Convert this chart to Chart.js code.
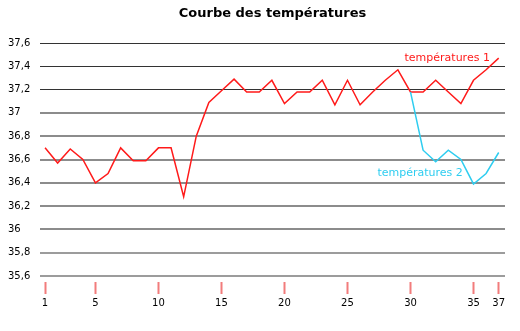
<!DOCTYPE html>
<html>
<head>
<meta charset="utf-8">
<script src="https://cdn.jsdelivr.net/npm/chart.js@4.4.1/dist/chart.umd.min.js"></script>
<style>
  html, body { margin: 0; padding: 0; background: #fff; }
  #wrap { width: 520px; height: 331px; }
</style>
</head>
<body>
<div id="wrap"><canvas id="temp-chart"></canvas></div>
<script>
/* Courbe des températures — two line series over days 1..37 */
var days = [1, 2, 3, 4, 5, 6, 7, 8, 9, 10, 11, 12, 13, 14, 15, 16, 17, 18, 19,
  20, 21, 22, 23, 24, 25, 26, 27, 28, 29, 30, 31, 32, 33, 34, 35, 36, 37];
var temp1 = [36.7, 36.57, 36.69, 36.6, 36.4, 36.48, 36.7, 36.59, 36.59, 36.7,
  36.7, 36.28, 36.8, 37.09, 37.19, 37.29, 37.18, 37.18, 37.28, 37.08,
  37.18, 37.18, 37.28, 37.07, 37.28, 37.07, 37.18, 37.28, 37.37, 37.18,
  37.18, 37.28, 37.18, 37.08, 37.28, 37.37, 37.47];
var temp2 = [null, null, null, null, null, null, null, null, null, null,
  null, null, null, null, null, null, null, null, null, null,
  null, null, null, null, null, null, null, null, null, 37.18,
  36.68, 36.58, 36.68, 36.6, 36.39, 36.48, 36.66];
var seriesNames = ['températures 1', 'températures 2'];
var seriesColors = ['#ff1a1a', '#2ecdf0'];
var xTicks = [1, 5, 10, 15, 20, 25, 30, 35, 37];
var titleText = 'Courbe des températures';
// where the series names sit, in data units (right end of text)
var nameX = [36.3, 34.15];
var nameY = [37.47, 36.48];

Chart.defaults.font.family = "'DejaVu Sans', Verdana, sans-serif";
Chart.defaults.font.size = 10;
Chart.defaults.color = '#000';

function fmtFr(v) {
  return String(Number(v.toFixed(1))).replace('.', ',');
}

var annotate = {
  id: 'annotate',
  afterDraw: function (chart) {
    var ctx = chart.ctx;
    var xs = chart.scales.x, ys = chart.scales.y;
    var area = chart.chartArea;
    ctx.save();
    ctx.font = "bold 13px 'DejaVu Sans', Verdana, sans-serif";
    ctx.fillStyle = '#000';
    ctx.textAlign = 'center';
    ctx.textBaseline = 'middle';
    ctx.fillText(titleText, (area.left + area.right) / 2, 14);
    ctx.font = "11px 'DejaVu Sans', Verdana, sans-serif";
    ctx.textAlign = 'right';
    for (var i = 0; i < seriesNames.length; i++) {
      ctx.fillStyle = seriesColors[i];
      ctx.fillText(seriesNames[i], xs.getPixelForValue(nameX[i]), ys.getPixelForValue(nameY[i]));
    }
    ctx.restore();
  }
};

var chart = new Chart(document.getElementById('temp-chart'), {
  type: 'line',
  data: {
    labels: days,
    datasets: [{
      label: seriesNames[0],
      data: temp1,
      borderColor: seriesColors[0],
      borderWidth: 1.5,
      pointRadius: 0,
      tension: 0,
      order: 2
    }, {
      label: seriesNames[1],
      data: temp2,
      borderColor: seriesColors[1],
      borderWidth: 1.5,
      pointRadius: 0,
      tension: 0,
      spanGaps: false,
      order: 1
    }]
  },
  options: {
    responsive: true,
    maintainAspectRatio: false,
    animation: false,
    layout: { padding: { top: 43, left: 8, right: 15, bottom: 21 } },
    plugins: {
      legend: { display: false },
      title: { display: false },
      tooltip: { enabled: false }
    },
    scales: {
      x: {
        type: 'linear',
        min: 0.6,
        max: 37.5,
        afterBuildTicks: function (axis) {
          axis.ticks = xTicks.map(function (v) { return { value: v }; });
        },
        afterFit: function (axis) { axis.height = 34; },
        ticks: {
          autoSkip: false,
          maxRotation: 0,
          padding: 3,
          callback: function (v) { return String(v); }
        },
        grid: {
          drawOnChartArea: false,
          tickLength: 18,
          tickWidth: 2,
          tickColor: '#f27c7c',
          tickBorderDash: [0, 6, 12, 100]
        },
        border: { display: false }
      },
      y: {
        min: 35.6,
        max: 37.6,
        afterFit: function (axis) { axis.width = 32; },
        ticks: {
          stepSize: 0.2,
          crossAlign: 'far',
          padding: 0,
          callback: function (v) { return fmtFr(v); }
        },
        grid: {
          drawTicks: false,
          color: function (c) {
            var v = c.tick ? c.tick.value : 0;
            if (v >= 37.15) return '#333';
            if (v >= 35.95) return '#8c8c8c';
            return '#9c9c9c';
          },
          lineWidth: function (c) {
            var v = c.tick ? c.tick.value : 0;
            return v >= 37.15 ? 1 : 2;
          }
        },
        border: { display: false }
      }
    }
  },
  plugins: [annotate]
});
</script>
</body>
</html>
